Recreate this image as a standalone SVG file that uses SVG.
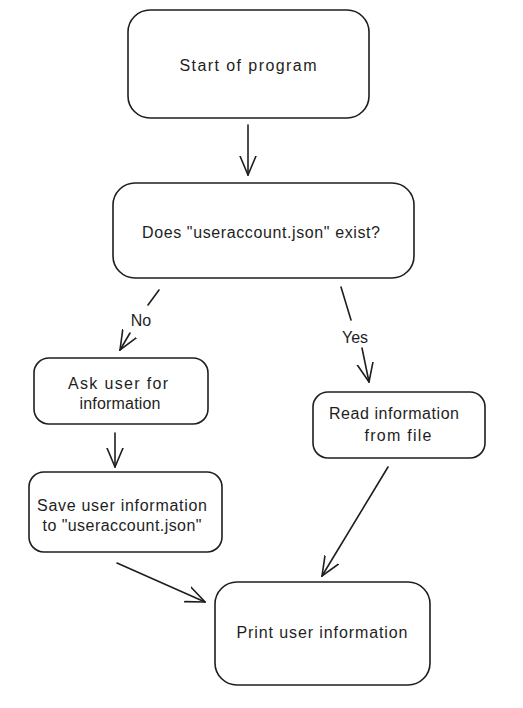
<svg xmlns="http://www.w3.org/2000/svg" width="523" height="708" viewBox="0 0 523 708">
<style>
.box{fill:#ffffff;stroke:#1e1e1e;stroke-width:1.6}
.t{font-family:"Liberation Sans",Arial,sans-serif;font-size:16px;fill:#1e1e1e;text-anchor:middle;dominant-baseline:central}
.c{fill:none;stroke:#1e1e1e;stroke-width:1.6;stroke-linecap:round}
</style>
<defs>
<marker id="ah" viewBox="0 0 20 18" refX="19" refY="9" markerWidth="20" markerHeight="18" markerUnits="userSpaceOnUse" orient="auto">
<path d="M0,1 L19,9 L0,17" fill="none" stroke="#1e1e1e" stroke-width="1.6" stroke-linecap="round"/>
</marker>
</defs>
<rect width="523" height="708" fill="#ffffff"/>
<g id="connectors">
<path class="c" d="M248,125 L248,175" marker-end="url(#ah)"/>
<path class="c" d="M159,290 L148,305"/>
<path class="c" d="M130,333 L120,350" marker-end="url(#ah)"/>
<path class="c" d="M341,287 L351,320"/>
<path class="c" d="M362,348 L369,382" marker-end="url(#ah)"/>
<path class="c" d="M115,433 L115,467" marker-end="url(#ah)"/>
<path class="c" d="M388,467 L322,576" marker-end="url(#ah)"/>
<path class="c" d="M117,563 L205,602" marker-end="url(#ah)"/>
<text class="t" x="141" y="320">No</text>
<text class="t" x="355" y="337">Yes</text>
</g>
<g id="start">
<rect class="box" x="128" y="10" width="241" height="108" rx="22"/>
<text class="t" x="248" y="65" textLength="137" lengthAdjust="spacing">Start of program</text>
</g>
<g id="exists">
<rect class="box" x="113" y="183" width="301" height="95" rx="22"/>
<text class="t" x="261" y="232" textLength="238" lengthAdjust="spacing">Does "useraccount.json" exist?</text>
</g>
<g id="ask">
<rect class="box" x="34" y="358" width="174" height="66" rx="15"/>
<text class="t" x="118" y="383" textLength="100" lengthAdjust="spacing">Ask user for</text>
<text class="t" x="120" y="403" textLength="81" lengthAdjust="spacing">information</text>
</g>
<g id="save">
<rect class="box" x="29" y="472" width="193" height="80" rx="15"/>
<text class="t" x="122" y="505" textLength="170" lengthAdjust="spacing">Save user information</text>
<text class="t" x="122" y="525" textLength="159" lengthAdjust="spacing">to "useraccount.json"</text>
</g>
<g id="read">
<rect class="box" x="313" y="392" width="172" height="66" rx="15"/>
<text class="t" x="394" y="413" textLength="130" lengthAdjust="spacing">Read information</text>
<text class="t" x="398" y="435" textLength="67" lengthAdjust="spacing">from file</text>
</g>
<g id="print">
<rect class="box" x="215" y="582" width="215" height="103" rx="22"/>
<text class="t" x="322" y="632" textLength="171" lengthAdjust="spacing">Print user information</text>
</g>
</svg>
